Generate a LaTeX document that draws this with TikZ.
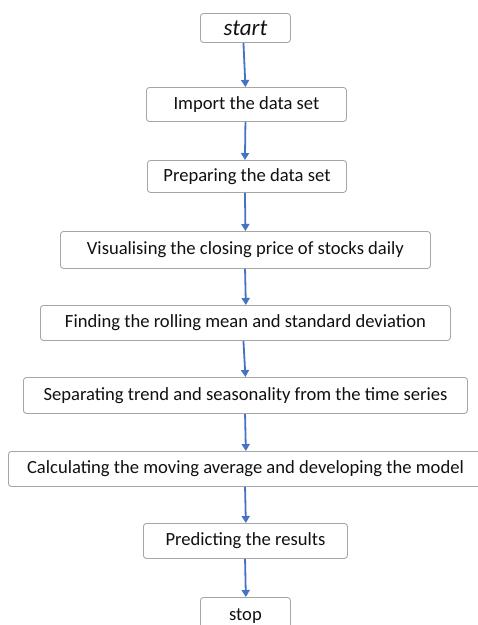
\documentclass[tikz,border=0pt]{standalone}
\usepackage{fontspec}
\setmainfont{Carlito}
\usetikzlibrary{arrows.meta}
\definecolor{arrowblue}{HTML}{4472C4}
\definecolor{boxgray}{HTML}{A6A6A6}
\definecolor{txt}{HTML}{111111}
\tikzset{
  stepbox/.style={draw=boxgray, line width=0.9pt, rounded corners=3pt, fill=white,
    text=txt, font=\fontsize{18.6}{20}\selectfont, inner sep=0pt, anchor=north west},
  flow/.style={draw=arrowblue, line width=1.8pt, -{Triangle[length=7pt,width=8pt]}}
}
\begin{document}
\begin{tikzpicture}[x=1pt,y=-1pt]
\useasboundingbox (0,0) rectangle (478,625);
\clip (0,0) rectangle (478,625);
\node[stepbox, minimum width=90pt, minimum height=29pt, font=\fontsize{23}{25}\selectfont\itshape] (s) at (200,13) {start};
\node[stepbox, minimum width=200pt, minimum height=34pt] (a) at (146,87) {Import the data set};
\node[stepbox, minimum width=199pt, minimum height=32pt] (b) at (147,160) {Preparing the data set};
\node[stepbox, minimum width=370pt, minimum height=37pt] (c) at (60,231) {Visualising the closing price of stocks daily};
\node[stepbox, minimum width=410pt, minimum height=35pt] (d) at (40,305) {Finding the rolling mean and standard deviation};
\node[stepbox, minimum width=444pt, minimum height=36pt] (e) at (23,377) {Separating trend and seasonality from the time series};
\node[stepbox, minimum width=474pt, minimum height=35pt] (f) at (8,451) {Calculating the moving average and developing the model};
\node[stepbox, minimum width=204pt, minimum height=35pt] (g) at (143,523) {Predicting the results};
\node[stepbox, minimum width=90pt, minimum height=40pt] (h) at (200,597) {\raisebox{6pt}{stop}};
\draw[flow] ([xshift=-2pt]s.south) -- ([xshift=-1pt]a.north);
\draw[flow] ([xshift=-1pt]a.south) -- ([xshift=-2pt]b.north);
\draw[flow] ([xshift=-2pt]b.south) -- ([xshift=0pt]c.north);
\draw[flow] ([xshift=-0.4pt]c.south) -- ([xshift=0.4pt]d.north);
\draw[flow] ([xshift=-2pt]d.south) -- ([xshift=0pt]e.north);
\draw[flow] ([xshift=-0.4pt]e.south) -- ([xshift=0.4pt]f.north);
\draw[flow] ([xshift=-0.4pt]f.south) -- ([xshift=0.4pt]g.north);
\draw[flow] ([xshift=-0.4pt]g.south) -- ([xshift=0.4pt]h.north);
\end{tikzpicture}
\end{document}
